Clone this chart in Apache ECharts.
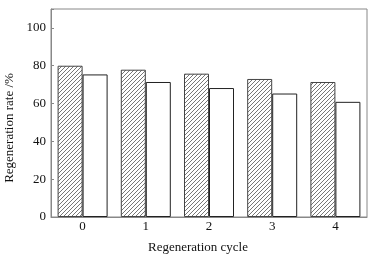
<!DOCTYPE html>
<html>
<head>
<meta charset="utf-8">
<script src="https://cdn.jsdelivr.net/npm/echarts@6/dist/echarts.min.js"></script>
<style>
  html, body { margin: 0; padding: 0; background: #fff; }
  #chart { width: 375px; height: 259px; }
</style>
</head>
<body>
<div id="chart"></div>
<script>
const cycles = ['0', '1', '2', '3', '4'];
const hatchedRates = [80.0, 77.9, 75.8, 73.0, 71.4];
const plainRates = [75.4, 71.4, 68.2, 65.3, 60.9];
const yTicks = [0, 20, 40, 60, 80, 100];

// diagonal hatch pattern for the first series
function makeHatch() {
  const c = document.createElement('canvas');
  c.width = 4;
  c.height = 4;
  const ctx = c.getContext('2d');
  ctx.fillStyle = '#fff';
  ctx.fillRect(0, 0, 4, 4);
  ctx.strokeStyle = '#777';
  ctx.lineWidth = 1;
  ctx.beginPath();
  ctx.moveTo(0, 4);
  ctx.lineTo(4, 0);
  ctx.moveTo(-1, 1);
  ctx.lineTo(1, -1);
  ctx.moveTo(3, 5);
  ctx.lineTo(5, 3);
  ctx.stroke();
  return c;
}

const chart = echarts.init(document.getElementById('chart'));
const font = 'Liberation Serif';
const axisColor = '#888';

const option = {
  animation: false,
  grid: {
    left: 51,
    right: 8,
    top: 9,
    bottom: 42,
    outerBoundsMode: 'none',
    show: true,
    borderColor: axisColor,
    borderWidth: 1,
  },
  xAxis: {
    type: 'category',
    data: cycles,
    name: 'Regeneration cycle',
    nameLocation: 'middle',
    nameGap: 24,
    nameTextStyle: { fontFamily: font, fontSize: 13, color: '#111', padding: [0, 22, 0, 0] },
    axisLine: { lineStyle: { color: axisColor } },
    axisTick: { show: false },
    axisLabel: { fontFamily: font, fontSize: 13, color: '#111', margin: 3 },
  },
  yAxis: {
    type: 'value',
    min: 0,
    max: 110,
    interval: 20,
    name: 'Regeneration rate /%',
    nameLocation: 'middle',
    nameGap: 33,
    nameTextStyle: { fontFamily: font, fontSize: 13, color: '#111', padding: [0, 30, 0, 0] },
    axisLine: { show: true, lineStyle: { color: axisColor } },
    axisTick: { show: true, inside: true, length: 3, lineStyle: { color: axisColor } },
    splitLine: { show: false },
    axisLabel: {
      fontFamily: font,
      fontSize: 13,
      color: '#111',
      margin: 5,
      formatter: (v) => (yTicks.indexOf(v) >= 0 ? String(v) : ''),
    },
  },
  series: [
    {
      type: 'bar',
      data: hatchedRates,
      barWidth: 25,
      barGap: '0%',
      itemStyle: {
        color: { image: makeHatch(), repeat: 'repeat' },
        borderColor: '#444',
        borderWidth: 1,
      },
    },
    {
      type: 'bar',
      data: plainRates,
      barWidth: 25,
      barGap: '0%',
      itemStyle: {
        color: '#fff',
        borderColor: '#222',
        borderWidth: 1,
      },
    },
  ],
};

chart.setOption(option);
</script>
</body>
</html>
